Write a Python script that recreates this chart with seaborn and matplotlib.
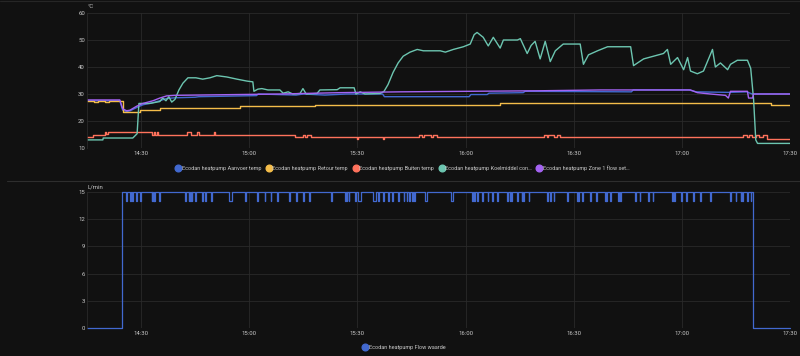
import pandas as pd
import numpy as np
import matplotlib
matplotlib.use("Agg")
import matplotlib.pyplot as plt
import matplotlib.dates as mdates
from matplotlib.lines import Line2D
import seaborn as sns

# ---- data (minutes after 14:15, value) ----
start = pd.Timestamp("2024-01-01 14:15")

aanvoer_t = [0, 9.1, 9.9, 11.0, 12.0, 13.8, 15.5, 18.3, 20.2, 22.0, 24.4, 30.0, 31.0, 39.0, 47.0, 47.5,
             58, 60, 66, 72, 82, 82.5, 106, 106.5, 111, 111.5, 121, 121.5, 151, 151.5, 167, 169, 178, 183,
             184.5, 195]
aanvoer_v = [27.5, 27.5, 24.0, 23.5, 23.8, 25.0, 26.0, 26.8, 27.5, 28.3, 28.6, 28.8, 29.0, 29.2, 29.4, 30.0,
             29.6, 30.0, 29.6, 30.0, 30.0, 29.0, 29.0, 29.8, 29.8, 30.3, 30.5, 31.0, 30.8, 31.5, 31.5, 30.8,
             30.6, 30.8, 30.0, 30.0]

retour_t = [0, 2, 3, 5, 6, 9.9, 14.6, 20.2, 31.3, 42.4, 63.2, 66.5, 114.6, 189.6, 191.6, 195]
retour_v = [27.3, 27.0, 27.4, 27.0, 27.4, 23.3, 24.2, 24.7, 25.0, 25.5, 25.8, 26.0, 26.5, 26.0, 25.8, 25.8]

buiten_t = [0, 1.6, 4.9, 5.4, 5.8, 17.9, 18.6, 19.0, 19.4, 19.8, 27.8, 28.9, 30.5, 31.0, 35.2, 35.5,
            57.7, 60.0, 60.6, 61.0, 62.0, 75.0, 75.3, 82.0, 82.3, 92.0, 93.0, 93.5, 95.5, 96.0, 97.0,
            126.7, 127.5, 128.0, 129.5, 130.5, 131.3, 182.0, 183.0, 183.5, 184.5, 185.5, 186.5, 187.5,
            188.5, 195]
buiten_v = [14.0, 15.0, 16.0, 15.2, 16.0, 15.0, 16.0, 15.0, 16.0, 15.0, 16.0, 15.0, 16.0, 15.0, 16.0, 15.0,
            14.1, 15.0, 14.1, 15.0, 14.1, 13.3, 14.1, 13.3, 14.1, 15.0, 14.1, 15.0, 14.1, 15.0, 14.1,
            15.0, 14.1, 15.0, 14.1, 15.0, 14.1, 15.0, 14.1, 15.0, 14.1, 14.9, 14.1, 14.9, 13.2, 13.2]

koel_t = [0, 4.4, 4.5, 12.7, 13.3, 13.9, 14.4, 17.4, 20.2, 21.0, 21.9, 22.7, 23.5, 24.4, 25.5, 26.6, 28.0,
          30.2, 32.1, 34.1, 36.0, 38.8, 41.6, 44.3, 46.0, 46.3, 47.4, 48.5, 50.2, 53.5, 54.4, 55.8, 57.1,
          59.1, 59.9, 60.8, 63.8, 64.6, 69.4, 70.2, 74.1, 74.6, 75.8, 77.1, 81.3, 82.4, 83.5, 84.9, 86.3,
          87.7, 89.6, 91.6, 93.3, 98.0, 99.4, 101.6, 104.4, 106.3, 107.4, 108.2, 109.9, 111.3, 112.7,
          114.6, 115.5, 119.4, 120.2, 122.1, 123.2, 124.3, 125.7, 127.1, 128.5, 129.9, 132.1, 136.8,
          137.7, 139.1, 141.6, 144.4, 150.8, 151.6, 152.7, 154.4, 159.9, 161.0, 161.9, 163.8, 165.5,
          166.6, 167.4, 169.3, 171.0, 173.5, 174.3, 175.7, 177.7, 178.5, 180.4, 183.2, 184.1, 184.9,
          185.5, 186.0, 195]
koel_v = [13.0, 13.0, 13.7, 13.7, 14.5, 15.3, 26.5, 26.5, 27.2, 28.5, 27.5, 29.0, 27.0, 28.0, 31.5, 34.0, 36.0,
          36.0, 35.5, 36.0, 36.8, 36.3, 35.5, 34.8, 34.5, 31.0, 31.8, 32.0, 31.5, 31.5, 30.3, 30.8, 30.0,
          30.2, 32.0, 30.0, 30.2, 31.5, 31.6, 32.3, 32.3, 30.0, 30.8, 30.0, 30.2, 31.0, 33.5, 38.0, 41.5,
          44.0, 45.5, 46.5, 46.0, 46.0, 45.5, 46.5, 47.5, 48.5, 52.0, 52.8, 51.0, 47.8, 51.0,
          47.0, 50.0, 50.0, 50.5, 45.0, 48.0, 49.5, 43.0, 49.5, 42.0, 46.0, 48.5, 48.5,
          41.0, 44.5, 46.0, 47.5, 47.5, 40.5, 41.5, 43.0, 45.0, 46.5, 41.0, 43.5, 39.0,
          43.5, 38.5, 37.5, 38.5, 46.5, 40.0, 41.5, 39.0, 41.0, 42.5, 42.5, 39.5, 28.0,
          13.0, 11.7, 11.7]

zone1_t = [0, 9.1, 9.9, 11.0, 11.9, 13.8, 15.5, 18.3, 20.2, 22.1, 24.4, 53.5, 70.2, 86.8, 125.7, 142.4,
           167.4, 169.3, 172.9, 177.1, 177.9, 178.5, 183.2, 183.5, 184.6, 184.9, 195]
zone1_v = [27.8, 27.8, 24.5, 23.8, 24.0, 25.5, 26.5, 27.5, 28.5, 29.3, 29.5, 30.0, 30.5, 30.8, 31.2, 31.5,
           31.5, 30.5, 30.0, 29.5, 28.5, 31.0, 31.0, 28.5, 28.5, 30.0, 30.0]

# flow: 0 -> 15 L/min at 14:24.7, back to 0 at 17:19.7, short dips to 14
flow_on, flow_off = 9.7, 184.7
flow_dips = [(10.9, 11.2), (11.9, 12.1), (12.4, 12.7), (13.7, 14.0), (14.8, 15.1), (17.9, 18.1),
             (18.3, 18.5), (18.7, 18.9), (20.0, 20.3), (27.2, 27.4), (28.2, 28.4), (28.6, 28.8),
             (29.0, 29.2), (30.0, 30.2), (32.0, 32.2), (32.7, 32.9), (34.5, 34.8), (39.3, 40.1),
             (43.9, 44.1), (47.2, 47.4), (49.3, 49.5), (50.9, 51.1), (52.8, 53.0), (55.9, 56.2),
             (58.0, 58.2), (60.0, 60.2), (61.7, 61.9), (67.7, 67.9), (71.6, 71.8), (72.0, 72.2),
             (72.6, 72.8), (74.4, 74.6), (75.3, 76.0), (79.3, 80.2), (80.8, 81.0), (82.1, 82.3),
             (83.6, 83.8), (84.6, 84.8), (86.4, 86.6), (87.8, 88.0), (88.7, 88.9), (89.4, 89.6),
             (90.1, 90.3), (90.7, 90.9), (93.8, 94.3), (100.9, 101.4), (106.8, 107.0), (107.4, 107.6),
             (108.3, 108.5), (109.6, 109.8), (111.1, 111.3), (112.3, 112.5), (113.7, 113.9),
             (116.5, 116.7), (117.2, 117.4), (117.6, 117.8), (119.3, 119.5), (120.6, 120.8),
             (121.0, 121.2), (122.5, 122.7), (127.6, 127.8), (128.5, 128.7), (129.4, 129.6),
             (133.2, 133.4), (136.0, 136.2), (136.3, 136.5), (137.3, 137.5), (139.6, 139.8),
             (141.2, 141.4), (143.7, 143.9), (144.1, 144.3), (145.2, 145.4), (147.4, 147.6),
             (147.8, 148.0), (152.1, 152.3), (153.3, 153.5), (155.6, 155.8), (156.9, 157.1),
             (162.4, 162.6), (162.8, 163.0), (164.9, 165.1), (166.2, 166.4), (168.1, 168.3),
             (170.1, 170.3), (172.8, 173.0), (178.3, 178.5), (179.9, 180.1), (181.3, 181.5),
             (181.7, 181.9), (183.2, 183.4), (184.1, 184.3)]

labels = ["Ecodan heatpump Aanvoer temp", "Ecodan heatpump Retour temp", "Ecodan heatpump Buiten temp",
          "Ecodan heatpump Koelmiddel con\u2026", "Ecodan heatpump Zone 1 flow set\u2026"]
colors = ["#4269d0", "#f4bd4a", "#ff725c", "#6cc5b0", "#a463f2"]
flow_label = "Ecodan heatpump Flow waarde"

# ---- styling ----
bg = "#111111"
grid_c = "#2a2a2a"
txt_c = "#c9c9c9"
sns.set_theme(style="dark")
plt.rcParams["font.family"] = ["Roboto", "DejaVu Sans"]


def to_df(t, v):
    return pd.DataFrame({"time": start + pd.to_timedelta(t, unit="m"), "value": v})


fig = plt.figure(figsize=(8, 3.56), dpi=100, facecolor=bg)
ax1 = fig.add_axes([87 / 800, 1 - 148 / 356, 703 / 800, 135 / 356])
ax2 = fig.add_axes([87 / 800, 1 - 328 / 356, 703 / 800, 136 / 356])

series = [(aanvoer_t, aanvoer_v, "default"), (retour_t, retour_v, "steps-post"),
          (buiten_t, buiten_v, "steps-post"), (koel_t, koel_v, "default"),
          (zone1_t, zone1_v, "default")]
for (t, v, ds), c in zip(series, colors):
    sns.lineplot(data=to_df(t, v), x="time", y="value", ax=ax1, color=c, lw=1.0,
                 estimator=None, sort=False, drawstyle=ds)

# flow step series
ft, fv = [0, flow_on], [0, 15]
for s, e in flow_dips:
    ft += [s, e]
    fv += [14, 15]
ft += [flow_off, 195]
fv += [0, 0]
sns.lineplot(data=to_df(ft, fv), x="time", y="value", ax=ax2, color=colors[0], lw=0.9,
             estimator=None, sort=False, drawstyle="steps-post", clip_on=False)

xmin, xmax = start, start + pd.Timedelta(minutes=195)
for ax, (lo, hi), yt in [(ax1, (10, 60), [10, 20, 30, 40, 50, 60]),
                         (ax2, (0, 15), [0, 3, 6, 9, 12, 15])]:
    ax.set_facecolor(bg)
    ax.set_xlim(xmin, xmax)
    ax.set_ylim(lo, hi)
    ax.set_yticks(yt)
    ax.xaxis.set_major_locator(mdates.MinuteLocator(byminute=[0, 30]))
    ax.xaxis.set_major_formatter(mdates.DateFormatter("%H:%M"))
    ax.grid(True, color=grid_c, lw=0.6)
    ax.set_axisbelow(True)
    ax.set_xlabel("")
    ax.set_ylabel("")
    for side in ["top", "right", "bottom"]:
        ax.spines[side].set_visible(False)
    ax.spines["left"].set_color(grid_c)
    ax.spines["left"].set_linewidth(0.6)
    ax.tick_params(colors=txt_c, labelsize=4.3, length=0, pad=2.5)
    ax.tick_params(axis="y", pad=1.5)

fig.text(88 / 800, 1 - 7 / 356, "\u00b0C", color=txt_c, fontsize=4.3, va="center", ha="left")
fig.text(87 / 800, 1 - 187 / 356, "L/min", color=txt_c, fontsize=4.3, va="center", ha="left")

# separator lines
fig.add_artist(Line2D([7 / 800, 1], [1 - 180.7 / 356] * 2, color="#2e2e2e", lw=0.8))
fig.add_artist(Line2D([0, 1], [1 - 1 / 356] * 2, color="#262626", lw=0.8))

handles = [Line2D([], [], marker="o", ls="", color=c, markersize=4.8) for c in colors]
fig.legend(handles, labels, loc="center", bbox_to_anchor=(0.503, 1 - 168 / 356), ncol=5,
           frameon=False, fontsize=4.0, labelcolor=txt_c, handletextpad=0.1, columnspacing=0.9,
           handlelength=1.0)
fig.legend([Line2D([], [], marker="o", ls="", color=colors[0], markersize=4.8)], [flow_label],
           loc="center", bbox_to_anchor=(0.505, 1 - 347 / 356), frameon=False, fontsize=4.0,
           labelcolor=txt_c, handletextpad=0.1, handlelength=1.0)

fig.savefig("out.png", dpi=100, facecolor=bg)
